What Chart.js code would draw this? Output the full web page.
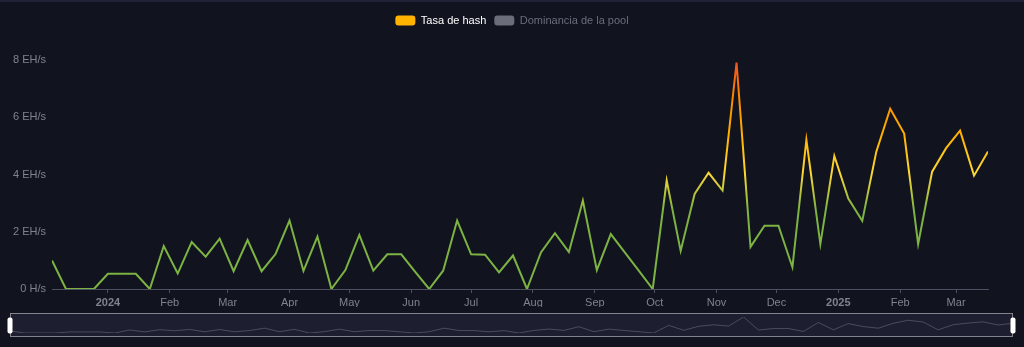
<!DOCTYPE html>
<html><head><meta charset="utf-8">
<script src="https://cdn.jsdelivr.net/npm/chart.js@4.4.1/dist/chart.umd.min.js"></script>
<style>
html,body{margin:0;padding:0;background:#11131f;}
#wrap{position:relative;width:1024px;height:347px;overflow:hidden;background:#11131f;}
#topline{position:absolute;left:0;top:0;width:1024px;height:2px;background:#1f2136;}
#main{position:absolute;left:0;top:0;}
#zoom{position:absolute;left:0;top:305px;}
</style></head><body>
<div id="wrap">
<canvas id="main" width="1024" height="347"></canvas>
<canvas id="zoom" width="1024" height="42"></canvas>
<div id="topline"></div>
</div>
<script>
const dates = [
 '2023-12-04','2023-12-11','2023-12-18','2023-12-25',
 '2024-01-01','2024-01-08','2024-01-15','2024-01-22','2024-01-29',
 '2024-02-05','2024-02-12','2024-02-19','2024-02-26',
 '2024-03-04','2024-03-11','2024-03-18','2024-03-25',
 '2024-04-01','2024-04-08','2024-04-15','2024-04-22','2024-04-29',
 '2024-05-06','2024-05-13','2024-05-20','2024-05-27',
 '2024-06-03','2024-06-10','2024-06-17','2024-06-24',
 '2024-07-01','2024-07-08','2024-07-15','2024-07-22','2024-07-29',
 '2024-08-05','2024-08-12','2024-08-19','2024-08-26',
 '2024-09-02','2024-09-09','2024-09-16','2024-09-23','2024-09-30',
 '2024-10-07','2024-10-14','2024-10-21','2024-10-28',
 '2024-11-04','2024-11-11','2024-11-18','2024-11-25',
 '2024-12-02','2024-12-09','2024-12-16','2024-12-23','2024-12-30',
 '2025-01-06','2025-01-13','2025-01-20','2025-01-27',
 '2025-02-03','2025-02-10','2025-02-17','2025-02-24',
 '2025-03-03','2025-03-10','2025-03-17'
];
// EH/s
const hashrate = [
 1.00,0,0,0,
 0.53,0.53,0.53,0,1.50,
 0.54,1.64,1.13,1.76,
 0.62,1.71,0.62,1.22,
 2.39,0.63,1.83,0,0.66,
 1.89,0.64,1.21,1.21,
 0.60,0,0.64,2.39,
 1.21,1.20,0.58,1.17,0,
 1.28,1.95,1.29,3.09,
 0.66,1.92,1.28,0.64,0,
 3.79,1.33,3.32,4.06,
 3.44,7.91,1.47,2.21,
 2.21,0.76,5.21,1.57,4.65,
 3.16,2.38,4.79,6.30,
 5.43,1.57,4.10,4.92,
 5.53,3.96,4.80
];
const monthTicks = ['2024-01-01','2024-02-01','2024-03-01','2024-04-01','2024-05-01','2024-06-01','2024-07-01','2024-08-01','2024-09-01','2024-10-01','2024-11-01','2024-12-01','2025-01-01','2025-02-01','2025-03-01'];
const monthLabels = ['2024','Feb','Mar','Apr','May','Jun','Jul','Aug','Sep','Oct','Nov','Dec','2025','Feb','Mar'];
const yTicks = [0,2,4,6,8];
const yTickLabels = ['0 H/s','2 EH/s','4 EH/s','6 EH/s','8 EH/s'];
const seriesNames = ['Tasa de hash','Dominancia de la pool'];

const FONT = "'Liberation Sans', Arial, sans-serif";
Chart.defaults.font.family = FONT;
Chart.defaults.font.size = 11;

const points = dates.map((d,i)=>({x: Date.parse(d), y: hashrate[i]}));
const xMin = points[0].x, xMax = points[points.length-1].x;
const vMax = Math.max(...hashrate), vMin = Math.min(...hashrate);

function lineGradient(ctx){
  const chart = ctx.chart;
  if(!chart.chartArea) return '#7CB342';
  const y = chart.scales.y;
  const top = y.getPixelForValue(vMax), bot = y.getPixelForValue(vMin);
  const end = top + 0.65*(bot-top);
  const g = chart.ctx.createLinearGradient(0, top, 0, end);
  g.addColorStop(0,'#F4511E');
  g.addColorStop(0.25,'#FB8C00');
  g.addColorStop(0.5,'#FFB300');
  g.addColorStop(0.75,'#FDD835');
  g.addColorStop(1,'#7CB342');
  return g;
}

const legendHeight = {
  id:'legendHeight',
  afterInit(chart){
    const lg = chart.legend;
    const f = lg.fit;
    lg.fit = function(){ f.call(this); this.height = 53; };
  }
};

new Chart(document.getElementById('main'), {
  type:'line',
  data:{datasets:[
    {label: seriesNames[0], data: points, borderColor: lineGradient, borderWidth: 2, pointRadius: 0, tension: 0, fill:false},
    {label: seriesNames[1], data: [], hidden: true, borderColor:'#6b6d7b'}
  ]},
  options:{
    responsive:false, animation:false, devicePixelRatio:1, events:[],
    layout:{padding:{top:7,right:0,bottom:40,left:0}},
    scales:{
      x:{type:'linear', min:xMin, max:xMax,
        afterBuildTicks: s => { s.ticks = monthTicks.map(d=>({value: Date.parse(d)})); },
        afterFit: s => { s.height = 18; },
        ticks:{autoSkip:false, maxRotation:0, padding:3, color:'#80838f',
          font: c => ({family:FONT, size:11, weight: /^\d{4}$/.test(monthLabels[c.index]) ? 'bold':'normal'}),
          callback:(v,i)=>monthLabels[i]},
        grid:{drawOnChartArea:false, drawTicks:true, tickLength:4, color:'#4d5060'},
        border:{display:true, color:'#4d5060', width:1}
      },
      y:{min:0, max:8,
        afterBuildTicks: s => { s.ticks = yTicks.map(v=>({value:v})); },
        afterFit: s => { s.width = 52; },
        ticks:{padding:6, color:'#80838f', font:{size:11}, callback:(v,i)=>yTickLabels[i]},
        grid:{display:false, drawTicks:false},
        border:{display:false}
      },
      yRight:{position:'right', display:true, min:0, max:8,
        afterFit: s => { s.width = 36; },
        ticks:{display:false}, grid:{display:false, drawTicks:false}, border:{display:false}
      }
    },
    plugins:{
      tooltip:{enabled:false},
      legend:{position:'top', align:'center',
        labels:{boxWidth:20, boxHeight:10, padding:8, useBorderRadius:true, borderRadius:3, font:{size:11},
          generateLabels: chart => chart.data.datasets.map((ds,i)=>({
            text: ds.label, fillStyle: i===0 ? '#FFB300' : '#6b6d7b', strokeStyle:'rgba(0,0,0,0)', lineWidth:0,
            fontColor: i===0 ? '#ffffff' : '#6b6d7b', hidden:false, datasetIndex:i, borderRadius:3
          }))
        }
      }
    }
  },
  plugins:[legendHeight]
});

const zoomFrame = {
  id:'zoomFrame',
  beforeDatasetsDraw(chart){
    const c = chart.ctx;
    c.save();
    c.fillStyle = '#1d1f31';
    c.fillRect(10, 8, 1003, 24);
    c.strokeStyle = 'rgba(255,255,255,0.45)';
    c.lineWidth = 1;
    c.strokeRect(10.5, 8.5, 1002, 23);
    c.restore();
  },
  afterDraw(chart){
    const c = chart.ctx;
    c.save();
    c.fillStyle = '#ffffff';
    [[7.5,12.5],[1010.5,12.5]].forEach(([x,y])=>{
      c.beginPath();
      c.roundRect(x, y, 5, 16, 2);
      c.fill();
    });
    c.restore();
  }
};

new Chart(document.getElementById('zoom'), {
  type:'line',
  data:{datasets:[{data: points, borderColor:'rgba(255,255,255,0.2)', borderWidth:1, pointRadius:0, fill:false, tension:0}]},
  options:{
    responsive:false, animation:false, devicePixelRatio:1, events:[],
    layout:{padding:{left:10,right:11,top:12,bottom:14}},
    scales:{x:{type:'linear', display:false, min:xMin, max:xMax}, y:{display:false, min:vMin, max:vMax}},
    plugins:{legend:{display:false}, tooltip:{enabled:false}}
  },
  plugins:[zoomFrame]
});
</script>
</body></html>
